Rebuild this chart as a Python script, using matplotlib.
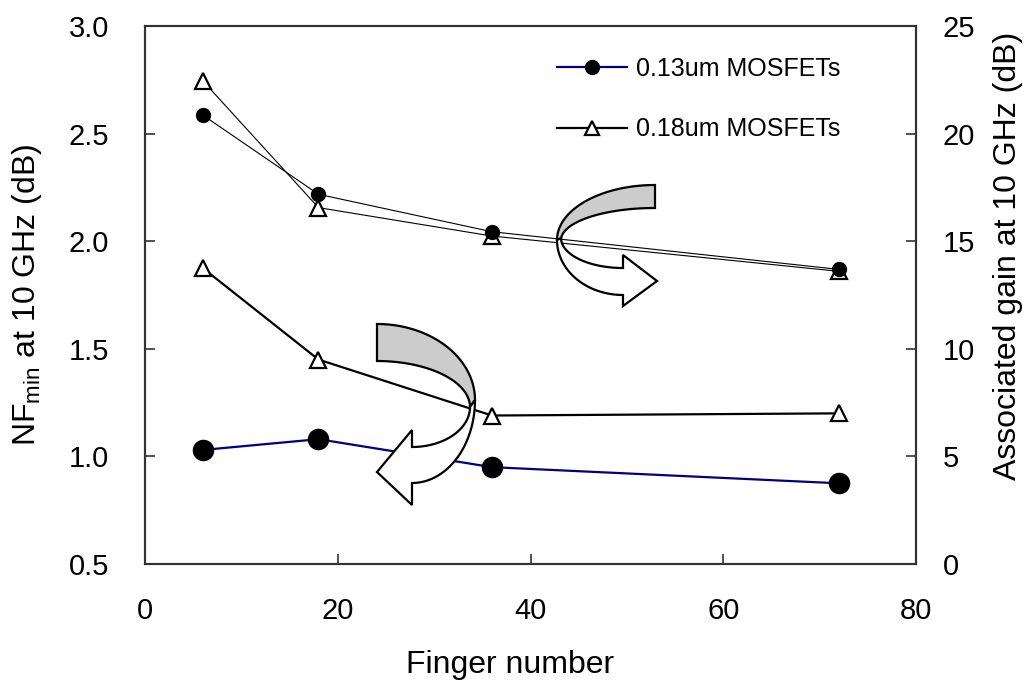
import numpy as np
import matplotlib
matplotlib.use("Agg")
import matplotlib.pyplot as plt
from matplotlib.patches import Polygon
from matplotlib.lines import Line2D

plt.rcParams['font.family'] = ['Liberation Sans', 'DejaVu Sans']
plt.rcParams['mathtext.fontset'] = 'custom'
plt.rcParams['mathtext.rm'] = 'Liberation Sans'
plt.rcParams['mathtext.it'] = 'Liberation Sans'

# Data
fingers = [6, 18, 36, 72]
nf_013 = [1.03, 1.08, 0.95, 0.875]      # NFmin, 0.13um (left axis)
nf_018 = [1.875, 1.45, 1.19, 1.20]      # NFmin, 0.18um (left axis)
gain_013 = [20.86, 17.18, 15.44, 13.69]  # associated gain, 0.13um (right axis)
gain_018 = [22.45, 16.56, 15.24, 13.6]   # associated gain, 0.18um (right axis)

x_ticks = [0, 20, 40, 60, 80]
nf_ticks = [0.5, 1.0, 1.5, 2.0, 2.5, 3.0]
gain_ticks = [0, 5, 10, 15, 20, 25]
legend_labels = ['0.13um MOSFETs', '0.18um MOSFETs']

W, H = 1030, 690
fig = plt.figure(figsize=(W / 100, H / 100), dpi=100)
ax = fig.add_axes([145 / W, 1 - 564 / H, 771 / W, 538 / H])
ax2 = ax.twinx()

spine_col = '#333333'
for a in (ax, ax2):
    for s in a.spines.values():
        s.set_color(spine_col)
        s.set_linewidth(1.5)

# lower curves: NFmin
ax.plot(fingers, nf_018, color='black', lw=1.6, marker='^', ms=12,
        mfc='white', mec='black', mew=1.6, zorder=3)
ax.plot(fingers, nf_013, color='#000080', lw=1.6, marker='o', ms=14.5,
        mfc='black', mec='black', zorder=3)

# upper curves: associated gain
ax2.plot(fingers, gain_018, color='black', lw=0.8, marker='^', ms=11,
         mfc='white', mec='black', mew=1.6, zorder=3)
ax2.plot(fingers, gain_013, color='black', lw=0.8, marker='o', ms=10,
         mfc='black', mec='black', zorder=4)

ax.set_xlim(0, 80)
ax.set_ylim(0.5, 3.0)
ax2.set_ylim(0, 25)
ax.set_xticks(x_ticks)
ax.set_yticks(nf_ticks)
ax.set_yticklabels([f'{v:.1f}' for v in nf_ticks])
ax2.set_yticks(gain_ticks)

ax.tick_params(axis='x', direction='in', length=7, width=1.2, color=spine_col,
               labelsize=21, pad=24)
ax.tick_params(axis='y', direction='in', length=7, width=1.2, color=spine_col,
               labelsize=21, pad=26)
ax2.tick_params(axis='y', direction='in', length=7, width=1.2, color=spine_col,
                labelsize=21, pad=19)

ax.set_xlabel('Finger number', fontsize=23)
ax.xaxis.set_label_coords((510 - 145) / 771, (564 - 650) / 538)
ax.set_ylabel(r'NF$_{\mathrm{min}}$ at 10 GHz (dB)', fontsize=23)
ax.yaxis.set_label_coords((44 - 145) / 771, (564 - 295) / 538)
ax2.set_ylabel('Associated gain at 10 GHz (dB)', fontsize=23)
ax2.yaxis.set_label_coords((993 - 145) / 771, (564 - 256) / 538)

# legend
handles = [
    Line2D([], [], color='#000080', lw=1.6, marker='o', ms=10, mfc='black', mec='black'),
    Line2D([], [], color='black', lw=1.6, marker='^', ms=10, mfc='white', mec='black', mew=1.6),
]
ax2.legend(handles, legend_labels, loc='upper left',
           bbox_to_anchor=((557 - 145) / 771, (564 - 57) / 538),
           frameon=False, fontsize=18, borderpad=0, borderaxespad=0,
           handlelength=2.8, handletextpad=0.36, labelspacing=1.45)


# curved ribbon arrows (decoration), drawn in figure pixel coordinates
def arc(cx, cy, rx, ry, t0, t1, n=40):
    t = np.radians(np.linspace(t0, t1, n))
    return np.column_stack([cx + rx * np.cos(t), cy - ry * np.sin(t)])


def to_fig(pts):
    pts = np.asarray(pts, dtype=float)
    return np.column_stack([pts[:, 0] / W, 1 - pts[:, 1] / H])


def add_poly(pts, fc):
    fig.add_artist(Polygon(to_fig(pts), closed=True, facecolor=fc,
                           edgecolor='black', lw=1.6, joinstyle='miter',
                           transform=fig.transFigure, zorder=5))


# upper arrow, pointing right (towards gain axis)
gray_up = np.vstack([arc(655, 240, 98, 55, 90, 180), arc(655, 240, 94, 32, 180, 90)])
white_up = np.vstack([arc(623, 240, 66, 55, 180, 270),
                      [[623, 306], [657, 281], [623, 255]],
                      arc(623, 238, 62, 30, 270, 180)])
add_poly(gray_up, '#cccccc')
add_poly(white_up, 'white')

# lower arrow, pointing left (towards NFmin axis)
gray_lo = np.vstack([arc(377, 400, 98, 76, 90, 0), arc(377, 407, 93, 46, 0, 90)])
white_lo = np.vstack([arc(412, 400, 63, 83, 0, -90),
                      [[412, 505], [377, 472], [412, 430]],
                      arc(412, 407, 58, 40, -90, 0)])
add_poly(gray_lo, '#cccccc')
add_poly(white_lo, 'white')

fig.savefig('out.png', dpi=100)
